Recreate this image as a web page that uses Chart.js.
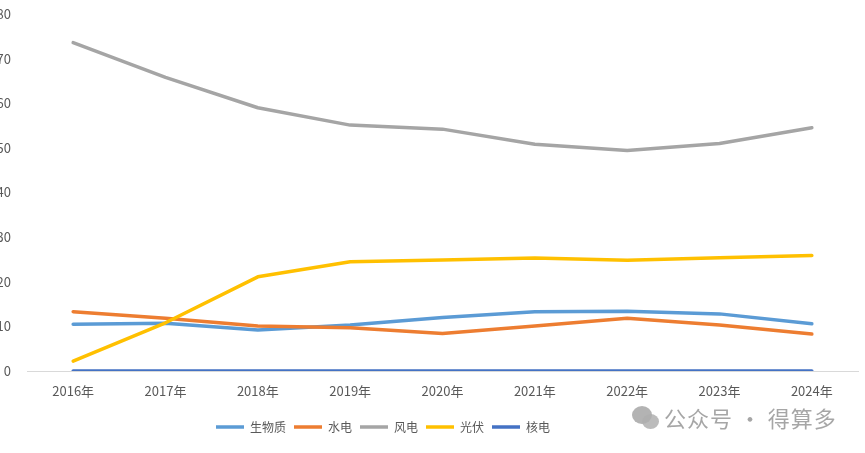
<!DOCTYPE html>
<html>
<head>
<meta charset="utf-8">
<script src="https://cdn.jsdelivr.net/npm/chart.js@4.4.0/dist/chart.umd.min.js"></script>
<style>
    html, body { margin: 0; padding: 0; background: #fff; overflow: hidden; }
    #wrap { position: relative; width: 865px; height: 453px; overflow: hidden; }
    #chart { position: absolute; left: -100px; top: 0; }
    .mark { position: absolute; font-family: 'Noto Sans CJK SC', sans-serif; color: rgba(150,150,150,0.85); }
    #wm { left: 664px; top: 402px; font-size: 22px; line-height: 30px; letter-spacing: 1px; }
    .bub { position: absolute; border-radius: 50%; background: rgba(160,160,160,0.8); }
</style>
</head>
<body>
<div id="wrap">
    <canvas id="chart" width="965" height="453"></canvas>
    <div class="bub" style="left:632px;top:406px;width:20px;height:18px;"></div>
    <div class="bub" style="left:642px;top:414px;width:17px;height:15px;background:rgba(175,175,175,0.85);"></div>
    <div id="wm" class="mark">公众号 · 得算多</div>
</div>
<script>
// values
const years = ['2016年', '2017年', '2018年', '2019年', '2020年', '2021年', '2022年', '2023年', '2024年'];
const biomass = [10.5, 10.7, 9.2, 10.3, 12.0, 13.3, 13.4, 12.8, 10.6];
const hydro = [13.3, 11.8, 10.1, 9.7, 8.4, 10.1, 11.8, 10.3, 8.3];
const wind = [73.6, 65.8, 59.0, 55.1, 54.2, 50.8, 49.4, 51.0, 54.5];
const solar = [2.2, 10.8, 21.1, 24.5, 24.9, 25.3, 24.8, 25.4, 25.9];
const nuclear = [0, 0, 0, 0, 0, 0, 0, 0, 0];

const FONT = "'Noto Sans CJK SC', 'Noto Sans', sans-serif";

function series(label, data, color, order) {
    return {
        label: label,
        data: data,
        borderColor: color,
        backgroundColor: color,
        borderWidth: 3.5,
        borderCapStyle: 'round',
        borderJoinStyle: 'round',
        pointRadius: 0,
        tension: 0,
        fill: false,
        order: order
    };
}

new Chart(document.getElementById('chart'), {
    type: 'line',
    data: {
        labels: years,
        datasets: [
            series('生物质', biomass, '#5B9BD5', 5),
            series('水电', hydro, '#ED7D31', 4),
            series('风电', wind, '#A5A5A5', 3),
            series('光伏', solar, '#FFC000', 2),
            series('核电', nuclear, '#4472C4', 1)
        ]
    },
    options: {
        responsive: false,
        animation: false,
        layout: {
            padding: { left: 8, right: 7, top: 14, bottom: 10 }
        },
        scales: {
            x: {
                offset: true,
                grid: { display: false, drawTicks: false },
                border: { display: true, color: '#d9d9d9', width: 1 },
                ticks: {
                    color: '#595959',
                    padding: 12,
                    font: { family: FONT, size: 13 },
                    maxRotation: 0
                },
                afterFit: function(scale) { scale.height = 42; }
            },
            y: {
                min: 0,
                max: 80,
                grid: { display: false, drawTicks: false },
                border: { display: false },
                ticks: {
                    stepSize: 10,
                    color: '#595959',
                    padding: 16,
                    font: { family: FONT, size: 13 }
                },
                afterFit: function(scale) {
                    scale.width = 119;
                    scale.paddingTop = 0;
                    scale.paddingBottom = 0;
                }
            }
        },
        plugins: {
            legend: {
                position: 'bottom',
                labels: {
                    usePointStyle: true,
                    pointStyle: 'line',
                    pointStyleWidth: 28,
                    padding: 8,
                    color: '#595959',
                    font: { family: FONT, size: 12 },
                    sort: function(a, b) { return a.datasetIndex - b.datasetIndex; }
                }
            },
            tooltip: { enabled: false }
        }
    }
});
</script>
</body>
</html>
